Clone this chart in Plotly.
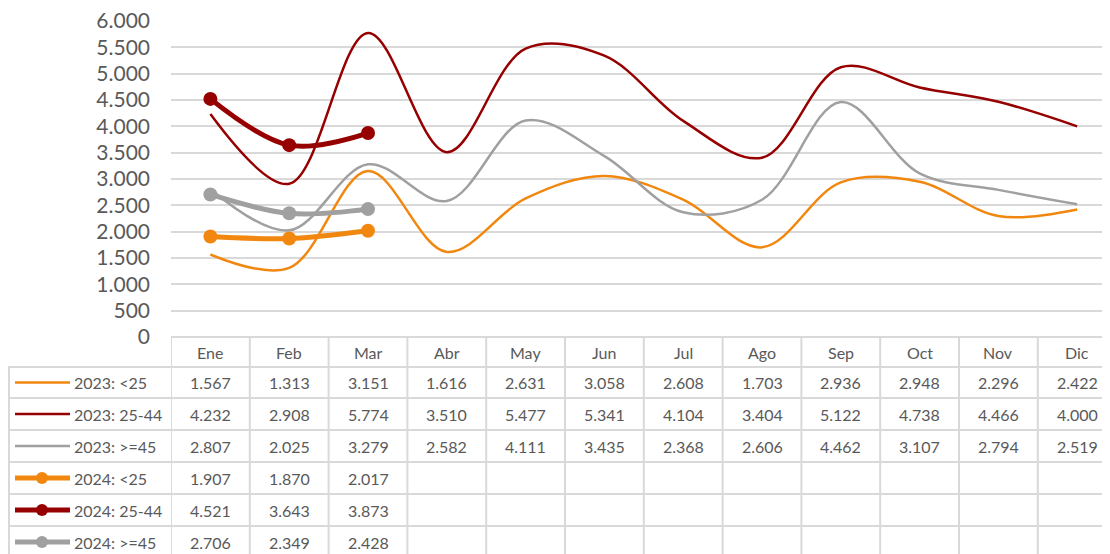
import plotly.graph_objects as go

months = ["Ene", "Feb", "Mar", "Abr", "May", "Jun", "Jul", "Ago", "Sep", "Oct", "Nov", "Dic"]
s2023_lt25 = [1567, 1313, 3151, 1616, 2631, 3058, 2608, 1703, 2936, 2948, 2296, 2422]
s2023_25_44 = [4232, 2908, 5774, 3510, 5477, 5341, 4104, 3404, 5122, 4738, 4466, 4000]
s2023_ge45 = [2807, 2025, 3279, 2582, 4111, 3435, 2368, 2606, 4462, 3107, 2794, 2519]
s2024_lt25 = [1907, 1870, 2017]
s2024_25_44 = [4521, 3643, 3873]
s2024_ge45 = [2706, 2349, 2428]

names = ["2023: <25", "2023: 25-44", "2023: >=45", "2024: <25", "2024: 25-44", "2024: >=45"]
values = [s2023_lt25, s2023_25_44, s2023_ge45, s2024_lt25, s2024_25_44, s2024_ge45]
yticks = [0, 500, 1000, 1500, 2000, 2500, 3000, 3500, 4000, 4500, 5000, 5500, 6000]

ORANGE = "#F2870F"
RED = "#960000"
GRAY = "#A0A0A0"
colors = [ORANGE, RED, GRAY, ORANGE, RED, GRAY]
is2024 = [False, False, False, True, True, True]

# page has an 8px body margin; figure is placed at (8, 8)
OFF = 8
W, H = 1110 - OFF, 554 - OFF
FONT = "Lato"
TXT = "#595959"
GRID = "#D9D9D9"


def px(x):
    return (x - OFF) / W


def py(y):
    return (H - (y - OFF)) / H


col_w = 78.8
x0 = 171
x_end = (1110 - x0) / col_w - 0.5
y_top = 6010  # tiny headroom so the 6.000 tick is kept
y_top_px = 337 - (337 - 21) * y_top / 6000

fig = go.Figure()
for name, vals, c, b in zip(names, values, colors, is2024):
    fig.add_trace(go.Scatter(
        x=list(range(len(vals))), y=vals, name=name,
        mode="lines+markers" if b else "lines",
        line=dict(color=c, width=5 if b else 2.5, shape="spline", smoothing=1.0),
        marker=dict(size=14, color=c),
        showlegend=False, hoverinfo="skip"))

shapes = []
annotations = []
lc = dict(color=GRID, width=2)

# table horizontal lines
shapes.append(dict(type="line", xref="paper", yref="paper", x0=px(171), x1=1, y0=py(337), y1=py(337), line=lc))
for yy in [367, 398, 430, 462, 494, 526]:
    shapes.append(dict(type="line", xref="paper", yref="paper", x0=px(8), x1=1, y0=py(yy), y1=py(yy), line=lc))
# vertical lines
shapes.append(dict(type="line", xref="paper", yref="paper", x0=px(9), x1=px(9), y0=py(367), y1=0, line=lc))
for k in range(13):
    shapes.append(dict(type="line", xref="x", yref="paper", x0=k - 0.5, x1=k - 0.5, y0=py(337), y1=0, line=lc))

# header
for i, m in enumerate(months):
    annotations.append(dict(x=i, y=py(352), xref="x", yref="paper", text=m, showarrow=False,
                            font=dict(family=FONT, size=16, color=TXT), xanchor="center", yanchor="middle"))

row_centers = [382.5, 414, 446, 478, 510, 542]
for r, (name, vals, c, b) in enumerate(zip(names, values, colors, is2024)):
    yc = row_centers[r]
    shapes.append(dict(type="line", xref="paper", yref="paper", x0=px(15), x1=px(70), y0=py(yc), y1=py(yc),
                       line=dict(color=c, width=5 if b else 2.5)))
    if b:
        shapes.append(dict(type="circle", xref="paper", yref="paper", x0=px(36), x1=px(48),
                           y0=py(yc + 6), y1=py(yc - 6), fillcolor=c, line=dict(color=c, width=0)))
    annotations.append(dict(x=px(72), y=py(yc), xref="paper", yref="paper", text=name, showarrow=False,
                            font=dict(family=FONT, size=16, color=TXT), xanchor="left", yanchor="middle"))
    for i, v in enumerate(vals):
        annotations.append(dict(x=i, y=py(yc), xref="x", yref="paper", text=f"{v:,}".replace(",", "."),
                                showarrow=False, font=dict(family=FONT, size=16, color=TXT),
                                xanchor="center", yanchor="middle"))

fig.update_layout(
    width=W, height=H,
    margin=dict(l=0, r=0, t=0, b=0, autoexpand=False),
    paper_bgcolor="white", plot_bgcolor="white",
    separators=",.",
    xaxis=dict(domain=[px(171), 1], range=[-0.5, x_end], showgrid=False, zeroline=False,
               showticklabels=False, showline=False, fixedrange=True, automargin=False),
    yaxis=dict(domain=[py(337), py(y_top_px)], range=[0, y_top], tickmode="array", tickvals=yticks,
               tickformat=",.0f", ticklabeloverflow="allow",
               showgrid=True, gridcolor=GRID, gridwidth=2, zeroline=False, showline=False,
               tickfont=dict(family=FONT, size=21, color=TXT), ticklabelstandoff=20,
               fixedrange=True, automargin=False),
    shapes=shapes, annotations=annotations,
    showlegend=False,
)

fig.write_html("out.html")
